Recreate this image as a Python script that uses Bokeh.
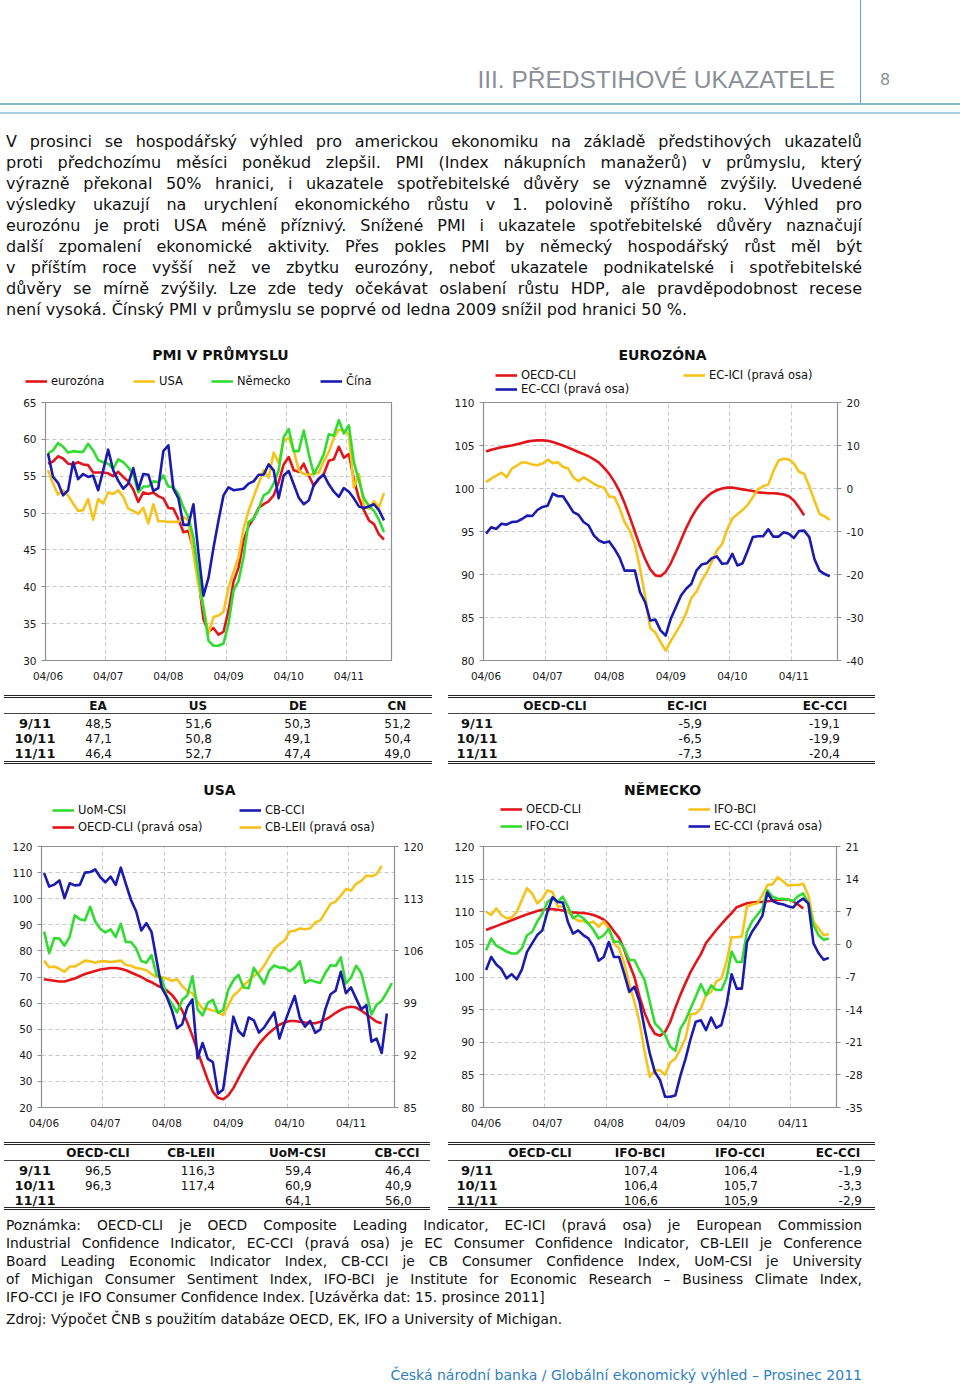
from bokeh.plotting import figure
from bokeh.models import (Div, Legend, LegendItem, Label, LinearAxis, Range1d, FixedTicker)
from bokeh.layouts import column, row
from bokeh.embed import file_html
from bokeh.resources import INLINE

FONT = "DejaVu Sans"
RED, YEL, GRN, BLU = "#e3151a", "#f6c21c", "#30dc30", "#1b1bb0"

# ---------------- axis labels (months from 04/2006) ----------------
tick_pos = [0, 12, 24, 36, 48, 60]
tick_labels = ["04/06", "04/07", "04/08", "04/09", "04/10", "04/11"]
year_bounds = [11.5, 23.5, 35.5, 47.5, 59.5]

# ---------------- PMI v průmyslu (04/2006 - 11/2011) ----------------
pmi_ea = [56.7, 57.0, 57.7, 57.4, 56.7, 56.6, 56.9, 56.6, 56.5,
          55.5, 55.5, 55.5, 55.4, 55.0, 55.6, 54.9, 54.3, 53.2, 51.5, 52.8, 52.6,
          52.8, 52.3, 52.0, 50.7, 50.6, 49.2, 47.4, 47.6, 45.0, 41.1, 35.6, 33.9,
          34.4, 33.5, 33.9, 36.8, 40.7, 42.6, 46.3, 48.2, 49.3, 50.7, 51.2, 51.6,
          52.4, 54.2, 56.6, 57.6, 55.8, 55.6, 56.7, 55.1, 53.7, 54.6, 55.3, 57.1,
          57.3, 59.0, 57.5, 58.0, 54.6, 52.0, 50.4, 49.0, 48.5, 47.1, 46.4]
pmi_us = [55.8, 54.0, 52.5, 53.1, 52.4, 51.3, 50.3, 50.4, 51.9,
          49.1, 51.9, 51.3, 52.8, 52.6, 53.1, 52.2, 50.6, 50.3, 49.9, 50.7, 48.6,
          51.2, 48.9, 48.9, 48.8, 48.8, 48.8, 49.5, 49.0, 44.5, 40.2, 37.2, 33.6,
          35.9, 36.1, 36.6, 39.9, 42.0, 44.0, 47.9, 50.3, 52.2, 54.0, 55.8, 54.8,
          58.2, 56.8, 59.8, 60.2, 58.5, 55.8, 55.3, 55.2, 55.3, 55.5, 57.0, 58.3,
          60.2, 61.3, 61.2, 60.7, 53.5, 55.3, 50.9, 50.6, 51.6, 50.8, 52.7]
pmi_de = [58.1, 58.5, 59.5, 59.0, 58.2, 58.4, 58.3, 58.3, 59.4,
          58.5, 57.2, 56.9, 56.7, 56.0, 57.3, 56.9, 56.2, 55.3, 52.8, 53.6, 53.6,
          54.3, 54.2, 55.1, 53.6, 53.5, 52.6, 50.8, 49.4, 46.7, 41.7, 37.2, 32.7,
          32.0, 32.0, 32.3, 35.0, 39.5, 40.8, 44.0, 48.8, 49.2, 50.6, 52.4, 52.8,
          54.0, 55.8, 60.3, 61.4, 58.4, 58.4, 61.2, 58.0, 55.3, 56.5, 58.0, 60.7,
          60.5, 62.6, 60.8, 61.9, 56.9, 54.4, 52.0, 51.0, 50.3, 49.1, 47.4]
pmi_cn = [58.1, 54.9, 54.1, 52.4, 53.1, 56.9, 54.6, 55.3, 54.9,
          55.1, 53.1, 55.8, 58.6, 55.8, 54.4, 53.3, 54.0, 56.1, 53.2, 55.3, 55.2,
          53.0, 53.4, 58.4, 59.2, 53.3, 52.0, 48.4, 48.4, 51.2, 44.6, 38.8, 41.2,
          45.3, 49.0, 52.4, 53.5, 53.1, 53.2, 53.3, 54.0, 54.3, 55.2, 55.2, 56.6,
          55.8, 52.0, 55.1, 55.7, 53.9, 52.1, 51.2, 51.7, 53.8, 54.7, 55.2, 53.9,
          52.9, 52.2, 53.4, 52.9, 52.0, 50.9, 50.7, 50.9, 51.2, 50.4, 49.0]

# ---------------- Eurozóna ----------------
ez_cli = [104.3, 104.5, 104.65, 104.8, 104.9, 105.0, 105.15, 105.3, 105.45, 105.55,
          105.6, 105.6, 105.55, 105.4, 105.2, 105.0, 104.75, 104.5, 104.25, 104.0,
          103.75, 103.4, 103.0, 102.4, 101.7, 100.8, 99.7, 98.3, 96.7, 95.0,
          93.3, 91.8, 90.6, 89.9, 89.8, 90.3, 91.3, 92.6, 94.0, 95.4,
          96.6, 97.6, 98.4, 99.0, 99.5, 99.8, 100.0, 100.1, 100.1, 100.0,
          99.9, 99.8, 99.7, 99.55, 99.5, 99.45, 99.45, 99.4, 99.3, 99.1,
          98.6, 97.8, 96.9]
ez_ici = [1.5, 2.3, 3.0, 3.7, 2.6, 4.6, 5.3, 6.1, 6.0, 5.6,
          5.4, 5.8, 6.7, 5.9, 6.1, 5.0, 4.7, 2.6, 1.7, 2.6,
          1.9, 1.1, 0.5, 0.2, -1.9, -2.0, -4.5, -7.8, -9.8, -13.0,
          -18.5, -25.0, -32.5, -33.5, -35.7, -37.7, -35.5, -33.5, -31.5, -29.0,
          -25.5, -24.0, -21.5, -19.5, -17.0, -14.4, -12.9, -9.5, -7.0, -6.0,
          -5.0, -3.8, -2.0, -0.2, 0.5, 0.9, 4.0, 6.5, 6.9, 6.8,
          5.8, 3.9, 3.4, 0.5, -2.8, -5.9, -6.5, -7.3]
ez_cci = [-10.5, -9.0, -9.4, -8.2, -8.4, -7.8, -7.7, -7.1, -6.3, -6.4,
          -5.0, -4.3, -4.0, -1.2, -1.8, -1.8, -3.6, -5.5, -6.1, -7.8,
          -8.6, -10.9, -12.1, -12.6, -12.3, -14.0, -16.0, -19.1, -19.1, -19.1,
          -24.1, -26.4, -30.7, -30.5, -33.0, -34.2, -30.3, -27.6, -24.9, -23.3,
          -22.2, -19.1, -17.7, -17.4, -16.2, -15.8, -17.5, -17.4, -15.2, -17.9,
          -17.4, -14.4, -11.3, -11.1, -11.1, -9.5, -11.2, -11.2, -10.2, -10.5,
          -11.5, -9.9, -9.8, -11.3, -16.4, -19.1, -19.9, -20.4]

# ---------------- USA ----------------
us_csi = [87.4, 79.1, 84.9, 84.7, 82.0, 85.4, 93.6, 92.1, 91.7,
          96.9, 91.3, 88.4, 87.1, 88.3, 85.3, 90.4, 83.4, 83.4, 80.9, 76.1, 75.5,
          78.4, 70.8, 69.5, 62.6, 59.8, 56.4, 61.2, 63.0, 70.3, 57.6, 55.3, 60.1,
          61.2, 56.3, 57.3, 65.1, 68.7, 70.8, 66.0, 65.7, 73.5, 70.6, 67.4, 72.5,
          74.4, 73.6, 73.6, 72.2, 73.6, 76.0, 67.8, 68.9, 68.2, 67.7, 71.6, 74.5,
          74.2, 77.5, 67.5, 69.8, 74.3, 71.5, 63.7, 55.7, 59.4, 60.9, 64.1, 67.7]
us_cci = [109.8, 104.7, 105.4, 107.0, 100.2, 105.9, 105.1, 105.3, 110.0,
          110.2, 111.2, 108.2, 106.3, 108.5, 105.3, 111.9, 105.6, 99.5, 95.2, 87.8, 90.6,
          87.3, 76.4, 65.9, 62.3, 57.2, 50.4, 51.9, 58.5, 61.4, 38.8, 44.7, 38.6,
          37.4, 25.3, 26.9, 40.8, 54.8, 49.3, 47.4, 54.5, 53.4, 48.7, 50.6, 53.6,
          56.5, 46.4, 52.3, 57.7, 62.7, 54.3, 51.0, 53.2, 48.6, 49.9, 57.8, 63.4,
          64.8, 72.0, 63.8, 66.0, 61.7, 57.6, 59.2, 45.2, 46.4, 40.9, 56.0]
us_cli = [102.2, 102.1, 102.0, 101.9, 101.9, 102.1, 102.3, 102.6, 102.9, 103.1,
          103.3, 103.5, 103.6, 103.7, 103.7, 103.6, 103.4, 103.1, 102.8, 102.5,
          102.1, 101.8, 101.4, 101.1, 100.7, 100.1, 99.2, 98.0, 96.4, 94.6,
          92.6, 90.6, 88.7, 87.1, 86.3, 86.1, 86.6, 87.6, 88.9, 90.2,
          91.4, 92.5, 93.5, 94.3, 95.0, 95.6, 96.1, 96.4, 96.6, 96.6,
          96.5, 96.4, 96.3, 96.3, 96.5, 96.8, 97.2, 97.7, 98.1, 98.4,
          98.5, 98.4, 98.0, 97.5, 97.0, 96.5, 96.3]
us_leii = [104.7, 103.8, 103.9, 103.6, 103.2, 103.9, 103.9, 104.3, 104.7, 104.6,
           104.4, 104.6, 104.6, 104.5, 104.6, 104.7, 104.1, 104.0, 103.7, 103.6,
           103.4, 102.9, 102.5, 102.5, 102.3, 102.0, 102.2, 101.3, 100.6, 100.3,
           99.2, 98.2, 98.2, 98.0, 97.8, 97.4, 98.7, 100.0, 100.6, 101.4,
           102.0, 102.7, 103.1, 104.0, 105.2, 106.3, 106.9, 107.4, 108.6, 108.7,
           109.0, 108.9, 109.0, 109.8, 110.1, 111.2, 112.3, 112.6, 113.4, 114.3,
           114.1, 115.0, 115.4, 116.1, 116.0, 116.3, 117.4]

# ---------------- Německo ----------------
de_cli = [107.2, 107.5, 107.8, 108.1, 108.4, 108.7, 109.0, 109.3, 109.6, 109.85,
          110.1, 110.3, 110.4, 110.4, 110.3, 110.2, 110.0, 109.9, 109.85, 109.8,
          109.7, 109.5, 109.2, 108.8, 108.1, 107.0, 106.0, 104.2, 102.0, 100.0,
          97.0, 94.5, 92.6, 91.3, 91.0, 91.6, 93.1, 95.3, 97.3, 99.1,
          100.8, 102.2, 103.5, 105.2, 106.2, 107.2, 108.1, 109.0, 109.8, 110.7,
          111.0, 111.3, 111.4, 111.5, 111.5, 111.6, 111.7, 111.8, 111.9, 111.9,
          111.6, 111.1, 110.5]
de_bci = [110.0, 109.5, 110.5, 109.5, 109.0, 109.1, 110.0, 111.8, 113.6, 112.8,
          111.3, 112.0, 113.3, 113.0, 110.8, 110.8, 110.0, 109.2, 108.6, 108.6,
          108.2, 108.5, 107.7, 108.5, 107.4, 105.1, 104.4, 102.1, 99.0, 96.2,
          93.1, 88.5, 84.7, 85.7, 85.7, 85.0, 86.9, 87.5, 89.0, 90.6,
          94.3, 94.4, 95.2, 97.2, 97.7, 99.3, 99.8, 102.3, 106.1, 106.1,
          106.2, 110.8, 111.1, 111.3, 112.5, 114.1, 114.2, 115.3, 114.7, 114.0,
          114.1, 114.1, 114.3, 112.5, 108.5, 107.4, 106.4, 106.6]
de_ifocci = [104.1, 105.9, 104.8, 104.4, 103.9, 103.6, 103.6, 104.4, 106.4, 106.9,
             108.5, 109.7, 111.5, 112.1, 111.5, 112.3, 110.8, 109.0, 109.5, 109.0,
             108.2, 107.2, 105.9, 106.4, 107.4, 105.4, 105.4, 104.4, 102.6, 102.6,
             101.0, 99.5, 96.2, 92.9, 92.1, 91.1, 89.3, 88.7, 92.1, 93.4,
             95.2, 97.0, 98.9, 97.2, 98.7, 98.0, 98.0, 99.8, 103.9, 102.3,
             102.3, 106.9, 108.5, 109.5, 110.5, 113.3, 112.3, 112.0, 112.0, 111.9,
             111.6, 112.4, 112.8, 111.3, 107.9, 106.4, 105.7, 105.9]
de_eccci = [-5.5, -2.7, -4.3, -5.3, -7.3, -6.4, -7.5, -5.4, -1.6, 0.2,
            2.0, 3.0, 7.0, 10.1, 9.1, 9.0, 4.8, 2.3, 3.0, 2.0,
            1.3, -0.5, -3.5, -2.7, 0.5, -2.7, -2.7, -6.3, -10.2, -9.1,
            -12.3, -18.1, -23.4, -27.4, -29.1, -32.7, -32.7, -32.4, -28.1, -24.5,
            -20.2, -16.6, -16.3, -18.4, -15.7, -17.9, -17.3, -13.0, -6.4, -9.5,
            -9.5, 0.5, 2.7, 4.3, 6.1, 11.1, 9.3, 8.8, 8.6, 8.2,
            7.9, 9.1, 9.8, 8.8, 0.2, -1.9, -3.3, -2.9]

# ---------------- tables ----------------
tab_rows = ["9/11", "10/11", "11/11"]
pmi_tab_heads = ["EA", "US", "DE", "CN"]
pmi_tab_ea = [48.5, 47.1, 46.4]
pmi_tab_us = [51.6, 50.8, 52.7]
pmi_tab_de = [50.3, 49.1, 47.4]
pmi_tab_cn = [51.2, 50.4, 49.0]
ez_tab_heads = ["OECD-CLI", "EC-ICI", "EC-CCI"]
ez_tab_cli = [None, None, None]
ez_tab_ici = [-5.9, -6.5, -7.3]
ez_tab_cci = [-19.1, -19.9, -20.4]
us_tab_heads = ["OECD-CLI", "CB-LEII", "UoM-CSI", "CB-CCI"]
us_tab_cli = [96.5, 96.3, None]
us_tab_leii = [116.3, 117.4, None]
us_tab_csi = [59.4, 60.9, 64.1]
us_tab_cci = [46.4, 40.9, 56.0]
de_tab_heads = ["OECD-CLI", "IFO-BCI", "IFO-CCI", "EC-CCI"]
de_tab_cli = [None, None, None]
de_tab_bci = [107.4, 106.4, 106.6]
de_tab_ifocci = [106.4, 105.7, 105.9]
de_tab_eccci = [-1.9, -3.3, -2.9]

# ---------------- texts ----------------
section_title = "III. PŘEDSTIHOVÉ UKAZATELE"
page_no = "8"
para_lines = [
    "V prosinci se hospodářský výhled pro americkou ekonomiku na základě předstihových ukazatelů",
    "proti předchozímu měsíci poněkud zlepšil. PMI (Index nákupních manažerů) v průmyslu, který",
    "výrazně překonal 50% hranici, i ukazatele spotřebitelské důvěry se významně zvýšily. Uvedené",
    "výsledky ukazují na urychlení ekonomického růstu v 1. polovině příštího roku. Výhled pro",
    "eurozónu je proti USA méně příznivý. Snížené PMI i ukazatele spotřebitelské důvěry naznačují",
    "další zpomalení ekonomické aktivity. Přes pokles PMI by německý hospodářský růst měl být",
    "v příštím roce vyšší než ve zbytku eurozóny, neboť ukazatele podnikatelské i spotřebitelské",
    "důvěry se mírně zvýšily. Lze zde tedy očekávat oslabení růstu HDP, ale pravděpodobnost recese",
    "není vysoká. Čínský PMI v průmyslu se poprvé od ledna 2009 snížil pod hranici 50 %.",
]
note_lines = [
    "Poznámka: OECD-CLI je OECD Composite Leading Indicator, EC-ICI (pravá osa) je European Commission",
    "Industrial Confidence Indicator, EC-CCI (pravá osa) je EC Consumer Confidence Indicator, CB-LEII je Conference",
    "Board Leading Economic Indicator Index, CB-CCI je CB Consumer Confidence Index, UoM-CSI je University",
    "of Michigan Consumer Sentiment Index, IFO-BCI je Institute for Economic Research – Business Climate Index,",
    "IFO-CCI je IFO Consumer Confidence Index. [Uzávěrka dat: 15. prosince 2011]",
]
source_line = "Zdroj: Výpočet ČNB s použitím databáze OECD, EK, IFO a University of Michigan."
footer_text = "Česká národní banka / Globální ekonomický výhled – Prosinec 2011"


def fmt(v):
    return "" if v is None else f"{v:.1f}".replace(".", ",")


def make_chart(w, h, left, right, top, bottom, ylo, yhi, yticks, rlo=None, rhi=None, rticks=None):
    p = figure(width=w, height=h, x_range=Range1d(-0.5, 68.5), y_range=Range1d(ylo, yhi),
               output_backend="svg", toolbar_location=None,
               min_border_left=left, min_border_right=right,
               min_border_top=top, min_border_bottom=bottom, margin=0)
    p.background_fill_color = "white"
    p.border_fill_color = "white"
    p.outline_line_color = "#8f8f8f"
    p.outline_line_width = 1.2
    xa = p.xaxis[0]
    xa.ticker = FixedTicker(ticks=tick_pos)
    xa.major_label_overrides = {t: l for t, l in zip(tick_pos, tick_labels)}
    xa.major_tick_out = 0
    xa.major_tick_in = 0
    xa.major_label_standoff = 9
    ya = p.yaxis[0]
    ya.ticker = FixedTicker(ticks=yticks)
    ya.major_label_overrides = {t: str(t) for t in yticks}
    axes = [xa, ya]
    if rlo is not None:
        p.extra_y_ranges = {"r": Range1d(rlo, rhi)}
        ra = LinearAxis(y_range_name="r", ticker=FixedTicker(ticks=rticks),
                        major_label_overrides={t: str(t) for t in rticks})
        p.add_layout(ra, "right")
        axes.append(ra)
    for a in axes:
        a.axis_line_color = "#8f8f8f"
        a.major_tick_line_color = "#8f8f8f"
        a.major_label_text_font = FONT
        a.major_label_text_font_size = "10.5px"
        a.major_label_text_color = "#1a1a1a"
        a.minor_tick_out = 0
        a.minor_tick_in = 0
    for a in axes[1:]:
        a.major_tick_out = 4
        a.major_tick_in = 0
        a.major_label_standoff = 5
    p.ygrid.grid_line_color = "#c8c8c8"
    p.ygrid.grid_line_dash = "4 3"
    p.xgrid.ticker = FixedTicker(ticks=year_bounds)
    p.xgrid.grid_line_color = "#c8c8c8"
    p.xgrid.grid_line_dash = "4 3"
    return p


def make_head(w, h):
    # strip above a chart holding its title and legend; its ranges keep the
    # series (drawn again only as legend keys) outside the visible area
    p = figure(width=w, height=h, x_range=Range1d(1000, 1001), y_range=Range1d(1000, 1001),
               output_backend="svg", toolbar_location=None, x_axis_location=None,
               y_axis_location=None, min_border=0, margin=0)
    p.grid.visible = False
    p.outline_line_color = None
    p.background_fill_color = "white"
    p.border_fill_color = "white"
    return p


def add_line(p, vals, color, right=False):
    kw = {"y_range_name": "r"} if right else {}
    return p.line(list(range(len(vals))), vals, line_color=color, line_width=2.6,
                  line_join="round", **kw)


def add_leg(head, vals, color, label, vx, vy):
    key = head.line(list(range(len(vals))), vals, line_color=color, line_width=2.6)
    leg = Legend(items=[LegendItem(label=label, renderers=[key])], location=(vx, vy),
                 padding=0, margin=0, spacing=0, glyph_width=22, glyph_height=12,
                 label_height=12, label_standoff=4, border_line_alpha=0,
                 background_fill_alpha=0, label_text_font=FONT,
                 label_text_font_size="11.5px", label_text_color="#111111")
    head.add_layout(leg)


def add_title(p, text, x, y):
    p.add_layout(Label(x=x, y=y, x_units="screen", y_units="screen", text=text,
                       text_align="center", text_baseline="middle", text_font=FONT,
                       text_font_style="bold", text_font_size="14px", text_color="#111111"))


# chart 1: PMI
h1 = make_head(440, 56)
p1 = make_chart(440, 294, 45, 49, 6, 30, 30, 65, [30, 35, 40, 45, 50, 55, 60, 65])
add_line(p1, pmi_ea, RED)
add_line(p1, pmi_us, YEL)
add_line(p1, pmi_de, GRN)
add_line(p1, pmi_cn, BLU)
add_title(h1, "PMI V PRŮMYSLU", 220, 42)
add_leg(h1, pmi_ea, RED, "eurozóna", 25, 8)
add_leg(h1, pmi_us, YEL, "USA", 133, 8)
add_leg(h1, pmi_de, GRN, "Německo", 211, 8)
add_leg(h1, pmi_cn, BLU, "Čína", 320, 8)

# chart 2: Eurozóna
h2 = make_head(515, 56)
p2 = make_chart(515, 294, 43, 118, 6, 30, 80, 110, [80, 85, 90, 95, 100, 105, 110],
                -40, 20, [-40, -30, -20, -10, 0, 10, 20])
add_line(p2, ez_cli, RED)
add_line(p2, ez_ici, YEL, right=True)
add_line(p2, ez_cci, BLU, right=True)
add_title(h2, "EUROZÓNA", 222, 42)
add_leg(h2, ez_cli, RED, "OECD-CLI", 55, 14)
add_leg(h2, ez_cci, BLU, "EC-CCI (pravá osa)", 55, 0.5)
add_leg(h2, ez_ici, YEL, "EC-ICI (pravá osa)", 243, 14)

# chart 3: USA
h3 = make_head(440, 65)
p3 = make_chart(440, 295, 41, 46, 6, 28, 20, 120, list(range(20, 121, 10)),
                85, 120, [85, 92, 99, 106, 113, 120])
add_line(p3, us_leii, YEL, right=True)
add_line(p3, us_cli, RED, right=True)
add_line(p3, us_csi, GRN)
add_line(p3, us_cci, BLU)
add_title(h3, "USA", 219, 51)
add_leg(h3, us_csi, GRN, "UoM-CSI", 52, 23.3)
add_leg(h3, us_cli, RED, "OECD-CLI (pravá osa)", 52, 5.7)
add_leg(h3, us_cci, BLU, "CB-CCI", 239, 23.3)
add_leg(h3, us_leii, YEL, "CB-LEII (pravá osa)", 239, 5.7)

# chart 4: Německo
h4 = make_head(515, 65)
p4 = make_chart(515, 295, 43, 119, 6, 28, 80, 120, list(range(80, 121, 5)),
                -35, 21, [-35, -28, -21, -14, -7, 0, 7, 14, 21])
add_line(p4, de_cli, RED)
add_line(p4, de_bci, YEL)
add_line(p4, de_ifocci, GRN)
add_line(p4, de_eccci, BLU, right=True)
add_title(h4, "NĚMECKO", 222, 51)
add_leg(h4, de_cli, RED, "OECD-CLI", 60, 24)
add_leg(h4, de_ifocci, GRN, "IFO-CCI", 60, 6.7)
add_leg(h4, de_bci, YEL, "IFO-BCI", 248, 24)
add_leg(h4, de_eccci, BLU, "EC-CCI (pravá osa)", 248, 6.7)


# ---------------- HTML pieces ----------------
def table_div(w, h, x0, x1, ys, heads, head_x, label_x, cols, col_right):
    y_top, y_head, y_under, y_bot, row_y = ys
    s = [f'<div style="position:relative;width:{w}px;height:{h}px;font-family:\'DejaVu Sans\';color:#111;">']
    s.append(f'<div style="position:absolute;left:{x0}px;width:{x1 - x0}px;top:{y_top - 1.5}px;height:0;border-top:3px double #222"></div>')
    s.append(f'<div style="position:absolute;left:{x0}px;width:{x1 - x0}px;top:{y_under - 0.5}px;height:0;border-top:1px solid #444"></div>')
    s.append(f'<div style="position:absolute;left:{x0}px;width:{x1 - x0}px;top:{y_bot - 1.5}px;height:0;border-top:3px double #222"></div>')
    for t, cx in zip(heads, head_x):
        s.append(f'<div style="position:absolute;left:{cx - 60}px;width:120px;top:{y_head - 8}px;line-height:16px;'
                 f'text-align:center;font-weight:bold;font-size:12px;white-space:nowrap">{t}</div>')
    for lab, ry in zip(tab_rows, row_y):
        s.append(f'<div style="position:absolute;left:{label_x - 40}px;width:80px;top:{ry - 8}px;line-height:16px;'
                 f'text-align:center;font-weight:bold;font-size:13px">{lab}</div>')
    for col, rx in zip(cols, col_right):
        for v, ry in zip(col, row_y):
            s.append(f'<div style="position:absolute;left:{rx - 80}px;width:80px;top:{ry - 8}px;line-height:16px;'
                     f'text-align:right;font-size:12px">{fmt(v)}</div>')
    s.append('</div>')
    return Div(text="".join(s), width=w, height=h, margin=0)


ys_a = (6, 16, 23.7, 72, [33.7, 48.7, 63.7])
ys_b = (8, 18, 25.7, 73, [36, 51, 65.7])
t1 = table_div(440, 85, 4, 432, ys_a, pmi_tab_heads, [98, 198, 298, 397], 35,
               [pmi_tab_ea, pmi_tab_us, pmi_tab_de, pmi_tab_cn], [112, 212, 311, 411])
t2 = table_div(515, 85, 8, 435, ys_a, ez_tab_heads, [115, 247, 385], 37,
               [ez_tab_ici, ez_tab_cci], [262, 400])
t3 = table_div(440, 80, 4, 430, ys_b, us_tab_heads, [98, 191, 297.5, 397], 35,
               [us_tab_cli, us_tab_leii, us_tab_csi, us_tab_cci], [111.7, 215, 311.7, 411.7])
t4 = table_div(515, 80, 8, 435, ys_b, de_tab_heads, [100, 200, 300, 398], 37,
               [de_tab_bci, de_tab_ifocci, de_tab_eccci], [218, 318, 422])


def just_lines(lines, last_left=True):
    out = []
    for i, ln in enumerate(lines):
        last = last_left and i == len(lines) - 1
        al = "left" if last else "justify"
        out.append(f'<div style="text-align:{al};text-align-last:{al};">{ln}</div>')
    return "".join(out)


header_html = (
    '<div style="position:relative;width:960px;height:340px;font-family:\'DejaVu Sans\';color:#111;">'
    f'<div style="position:absolute;right:125px;top:65px;font-family:\'Liberation Sans\';font-size:24.5px;'
    f'line-height:30px;color:#8a9096;white-space:nowrap;">{section_title}</div>'
    '<div style="position:absolute;left:860px;top:0px;width:1px;height:104px;background:#5ea6c4"></div>'
    f'<div style="position:absolute;left:880px;top:70px;font-size:16px;line-height:20px;color:#8a9096">{page_no}</div>'
    '<div style="position:absolute;left:0px;top:103px;width:960px;height:2px;background:#7db6cf"></div>'
    '<div style="position:absolute;left:0px;top:111.5px;width:960px;height:2px;background:#a9cfdf"></div>'
    '<div style="position:absolute;left:6px;top:130.5px;width:856px;font-size:16px;line-height:21px">'
    + just_lines(para_lines) + '</div></div>'
)
header = Div(text=header_html, width=960, height=340, margin=0)

notes_html = (
    '<div style="position:relative;width:960px;height:115px;font-family:\'DejaVu Sans\';color:#111;">'
    '<div style="position:absolute;left:6px;top:1px;width:856px;font-size:13.8px;line-height:18px">'
    + just_lines(note_lines) +
    f'<div style="margin-top:4px;text-align:left">{source_line}</div>'
    '</div></div>'
)
notes = Div(text=notes_html, width=960, height=115, margin=0)

footer_html = (
    '<div style="position:relative;width:960px;height:55px;font-family:\'DejaVu Sans\';">'
    f'<div style="position:absolute;right:98px;top:36px;font-size:14px;line-height:18px;color:#2f7fbf;'
    f'white-space:nowrap">{footer_text}</div></div>'
)
footer = Div(text=footer_html, width=960, height=55, margin=0)

layout = column(
    header,
    row(h1, h2, spacing=0),
    row(p1, p2, spacing=0),
    row(t1, t2, spacing=0),
    row(h3, h4, spacing=0),
    row(p3, p4, spacing=0),
    row(t3, t4, spacing=0),
    notes,
    footer,
    spacing=0,
)

open("out.html", "w").write(file_html(layout, INLINE))
